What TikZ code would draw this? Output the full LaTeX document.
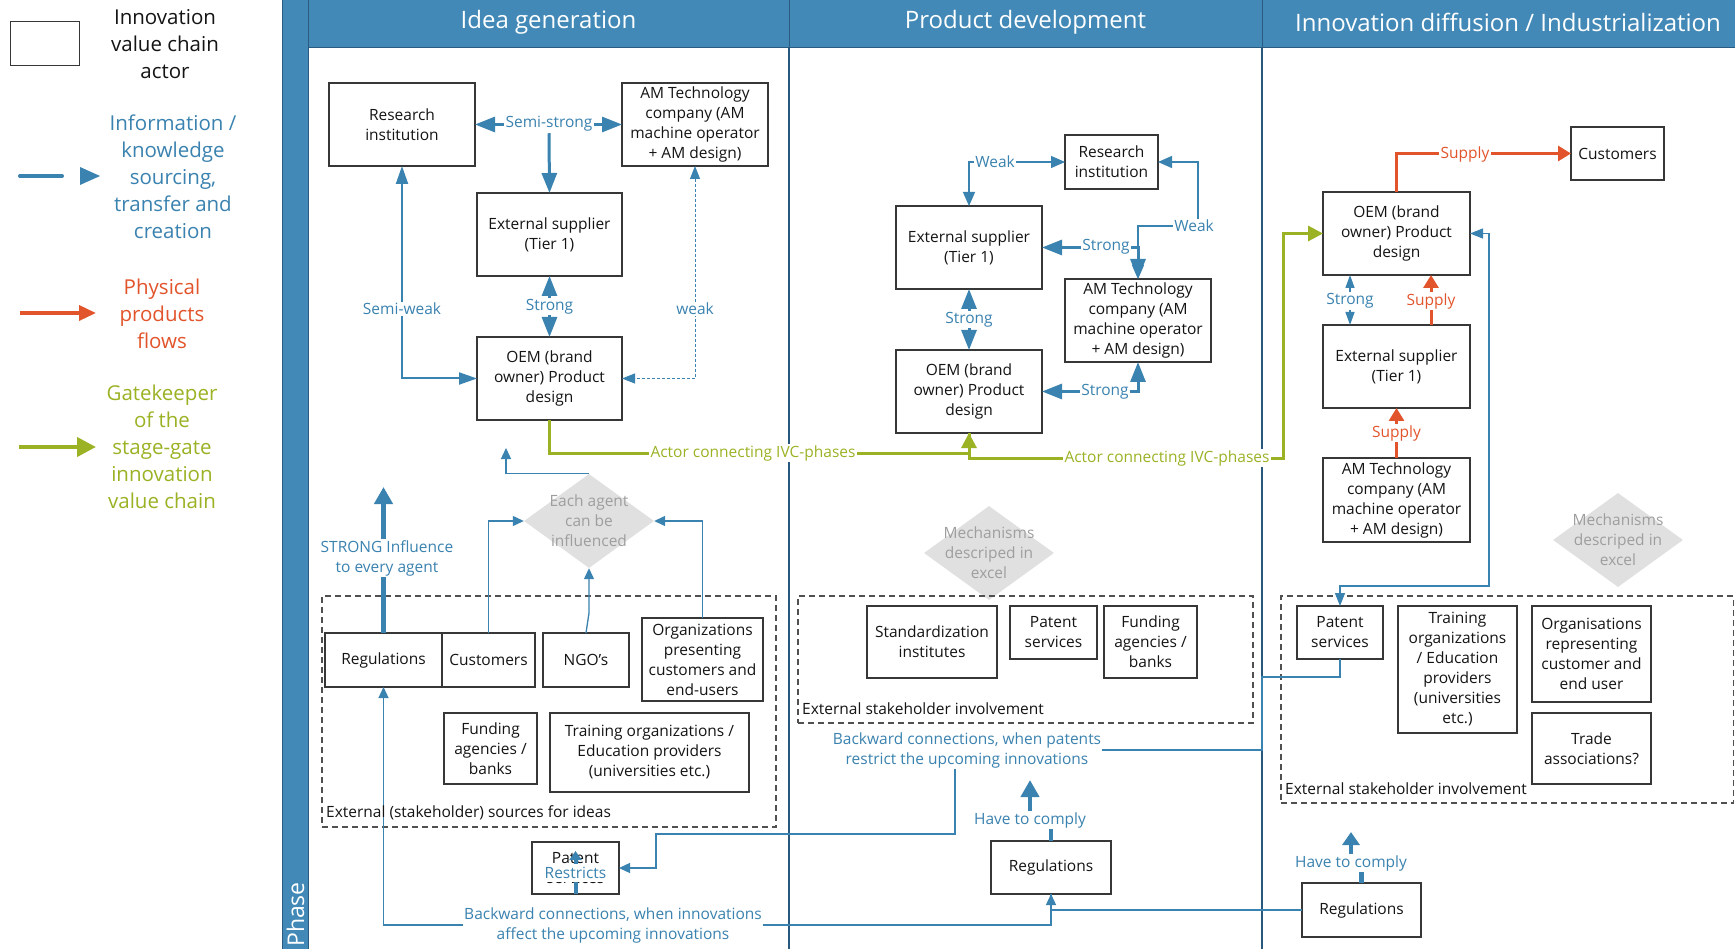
\documentclass[tikz,border=0pt]{standalone}
\usepackage{fontspec}
\setmainfont{Open Sans}
\usetikzlibrary{arrows.meta,shapes.geometric,calc}
\definecolor{hdr}{RGB}{66,137,183}
\definecolor{hdrdark}{RGB}{42,92,130}
\definecolor{bl}{RGB}{58,130,175}
\definecolor{orng}{RGB}{226,84,43}
\definecolor{grn}{RGB}{155,178,36}
\definecolor{dgray}{RGB}{224,224,224}
\definecolor{dtext}{RGB}{158,158,158}
\definecolor{bord}{RGB}{55,55,55}
\definecolor{dashc}{RGB}{80,80,80}
\definecolor{sepc}{RGB}{40,88,125}
\definecolor{txt}{RGB}{20,20,20}
\newcommand{\bxfont}{\fontsize{15.5}{20}\selectfont}
\newcommand{\lgfont}{\fontsize{20.5}{27}\selectfont}
\newcommand{\hdfont}{\fontsize{24}{28}\selectfont}
\newcommand{\actor}[6]{\node[actor, minimum width={(#4)-(#2)}, minimum height={(#5)-(#3)}] (#1) at ({((#2)+(#4))/2},{((#3)+(#5))/2}) {#6};}
\begin{document}
\begin{tikzpicture}[x=1pt,y=-1pt,
 actor/.style={draw=bord, line width=1.2pt, fill=white, align=center, inner sep=1pt, outer sep=0pt, font=\bxfont, text=txt},
 lab/.style={fill=white, inner sep=1.5pt, font=\bxfont, text=bl, align=center},
 olab/.style={lab, text=orng},
 glab/.style={lab, text=grn},
 plainlab/.style={inner sep=1pt, font=\bxfont, text=bl, align=center},
 dashbox/.style={draw=dashc, line width=1.2pt, dash pattern=on 6pt off 4pt, inner sep=0pt, outer sep=0pt, anchor=north west},
 dia/.style={diamond, fill=dgray, minimum width=130, minimum height=94, inner sep=0pt},
 diatxt/.style={font=\bxfont, text=dtext, align=center, inner sep=0pt},
 hcell/.style={fill=hdr, draw=hdrdark, line width=1pt, inner sep=0pt, outer sep=0pt},
 thk/.style={draw=bl, line width=3pt},
 med/.style={draw=bl, line width=2pt},
 thinb/.style={draw=bl, line width=1.3pt},
 vthk/.style={draw=bl, line width=4.5pt},
 orline/.style={draw=orng, line width=3pt},
 grnline/.style={draw=grn, line width=3pt},
 bigA/.style={-{Triangle[length=20pt,width=15pt]}},
 bigAA/.style={{Triangle[length=20pt,width=15pt]}-{Triangle[length=20pt,width=15pt]}},
 medAA/.style={{Triangle[length=18pt,width=12pt]}-{Triangle[length=18pt,width=12pt]}},
 smAA/.style={{Triangle[length=13pt,width=10pt]}-{Triangle[length=13pt,width=10pt]}},
 wAA/.style={{Triangle[length=14pt,width=12pt]}-{Triangle[length=14pt,width=12pt]}},
 smallA/.style={-{Triangle[length=11pt,width=10pt]}},
 tinyAA/.style={{Triangle[length=13pt,width=9pt]}-{Triangle[length=13pt,width=9pt]}},
 vA/.style={-{Triangle[length=17pt,width=18pt]}},
 vAs/.style={-{Triangle[length=13pt,width=17pt]}},
 tinyA/.style={-{Triangle[length=9pt,width=12pt]}},
 orA/.style={-{Triangle[length=13pt,width=15pt]}},
 grnA/.style={-{Triangle[length=15pt,width=15pt]}}
]
\fill[white] (0,0) rectangle (1735,949);
\useasboundingbox (0,0) rectangle (1735,949);

% phase bar and header
\filldraw[hcell] (282,0) rectangle (308,949);
\node[rotate=90, anchor=base west, text=white, font=\fontsize{23}{26}\selectfont, inner sep=0pt] (phase) at (304,947) {Phase};
\node[hcell, minimum width=481, minimum height=48] (h1) at (548.5,24) {};
\node[hcell, minimum width=473, minimum height=48] (h2) at (1025.5,24) {};
\node[hcell, minimum width=473, minimum height=48] (h3) at (1498.5,24) {};
\node[text=white, font=\hdfont] (h1t) at (548.5,22) {Idea generation};
\node[text=white, font=\hdfont] (h2t) at (1025.5,22) {Product development};
\node[text=white, font=\hdfont] (h3t) at (1508,22) {Innovation diffusion / Industrialization};
\draw[sepc, line width=1.3pt] (h1.south east) -- (789,949);
\draw[sepc, line width=1.3pt] (h2.south east) -- (1262,949);

% legend
\node[draw=bord, line width=1.2pt, minimum width=69, minimum height=44, anchor=north west, inner sep=0pt] (lgbox) at (10,21) {};
\node[font=\lgfont, align=center, text=txt] (lgt1) at (165,44) {Innovation\\value chain\\actor};
\coordinate (lb1) at (20,176); \coordinate (lb2) at (62,176);
\draw[bl, line width=4pt, line cap=round] (lb1) -- (lb2);
\fill[bl] (80,167) -- (100,176) -- (80,185) -- cycle;
\node[font=\lgfont, align=center, text=bl] (lgt2) at (173,177) {Information /\\knowledge\\sourcing,\\transfer and\\creation};
\coordinate (lo1) at (20,313); \coordinate (lo2) at (96,313);
\draw[orng, line width=3.5pt, -{Triangle[length=17pt,width=15pt]}] (lo1) -- (lo2);
\node[font=\lgfont, align=center, text=orng] (lgt3) at (162,314) {Physical\\products\\flows};
\coordinate (lg1) at (19,447); \coordinate (lg2) at (96,447);
\draw[grn, line width=4pt, -{Triangle[length=19pt,width=19pt]}] (lg1) -- (lg2);
\node[font=\lgfont, align=center, text=grn] (lgt4) at (162,447) {Gatekeeper\\of the\\stage-gate\\innovation\\value chain};

% diamonds and dashed boxes
\node[dia] (dia1) at (589,521) {};
\node[diatxt] at (dia1) {Each agent\\can be\\influenced};
\node[dia] (mech2) at (989,553) {};
\node[diatxt] at (mech2) {Mechanisms\\descriped in\\excel};
\node[dia] (mech3) at (1618,540) {};
\node[diatxt] at (mech3) {Mechanisms\\descriped in\\excel};

\node[dashbox, minimum width=454, minimum height=231] (ext1) at (322,596) {};
\node[dashbox, minimum width=455, minimum height=127] (ext2) at (798,596) {};
\node[dashbox, minimum width=452.5, minimum height=207] (ext3) at (1281,596) {};

% actors: idea generation
\actor{ri1}{329}{83}{475}{166}{Research\\institution}
\actor{am1}{622}{83}{768}{166}{AM Technology\\company (AM\\machine operator\\+ AM design)}
\actor{es1}{477}{193}{622}{276}{External supplier\\(Tier 1)}
\actor{oem1}{477}{337}{622}{420}{OEM (brand\\owner) Product\\design}
\actor{reg1}{325}{633}{442}{687}{Regulations}
\actor{cust1}{442}{633}{535}{687}{Customers}
\actor{ngo1}{543}{633}{629}{687}{NGO’s}
\actor{org1}{642}{618}{763}{701}{Organizations\\presenting\\customers and\\end-users}
\actor{fund1}{444}{713}{537}{784}{Funding\\agencies /\\banks}
\actor{train1}{550}{713}{749}{792}{Training organizations /\\Education providers\\(universities etc.)}
\actor{pat1}{532}{842}{619}{894}{Patent\\services}

% actors: product development
\actor{ri2}{1065}{135}{1158}{189}{Research\\institution}
\actor{es2}{896}{206}{1042}{289}{External supplier\\(Tier 1)}
\actor{am2}{1065}{279}{1211}{362}{AM Technology\\company (AM\\machine operator\\+ AM design)}
\actor{oem2}{896}{350}{1042}{433}{OEM (brand\\owner) Product\\design}
\actor{std2}{867}{606}{997}{678}{Standardization\\institutes}
\actor{pat2}{1010}{606}{1097}{659}{Patent\\services}
\actor{fund2}{1104}{606}{1197}{678}{Funding\\agencies /\\banks}
\actor{reg2}{991}{841}{1111}{894}{Regulations}

% actors: diffusion
\actor{cust3}{1571}{127}{1664}{180}{Customers}
\actor{oem3}{1323}{192}{1470}{275}{OEM (brand\\owner) Product\\design}
\actor{es3}{1323}{325}{1470}{408}{External supplier\\(Tier 1)}
\actor{am3}{1323}{458}{1470}{542}{AM Technology\\company (AM\\machine operator\\+ AM design)}
\actor{pat3}{1297}{606}{1383}{659}{Patent\\services}
\actor{train3}{1398}{606}{1517}{733}{Training\\organizations\\/ Education\\providers\\(universities\\etc.)}
\actor{org3}{1532}{606}{1651}{702}{Organisations\\representing\\customer and\\end user}
\actor{trade3}{1532}{713}{1651}{784}{Trade\\associations?}
\actor{reg3}{1302}{883}{1421}{937}{Regulations}

% connectors: idea generation
\draw[thk, bigAA] (ri1.east) -- (am1.west);
\node[lab] (ss) at (549,124) {Semi-strong};
\draw[thk, bigA] (ss.south) -- (es1.north);
\draw[thk, bigAA] (es1.south) -- node[lab]{Strong} (oem1.north);
\draw[med, medAA] (ri1.south) |- (oem1.west);
\node[lab] (swl) at (402,309) {Semi-weak};
\draw[bl, line width=1pt, dash pattern=on 3pt off 2pt, smAA] (am1.south) |- (oem1.east);
\node[lab] (wkl) at (695,309) {weak};

% green
\draw[grnline, grnA] (oem1.south) -- ++(0,33) -| (oem2.south);
\node[glab] (g1l) at (753,453) {Actor connecting IVC-phases};
\draw[grnline, grnA] (oem2.south) -- ++(0,25) -- (1283,458) |- (oem3.west);
\node[glab] (g2l) at (1167,458) {Actor connecting IVC-phases};

% diamond arrows
\coordinate (up1) at (506,448);
\draw[thinb, smallA] (dia1.north) -| (up1);
\draw[thinb, smallA] (cust1.north) |- (dia1.west);
\draw[thinb, smallA] (ngo1.north) -- (589,613) -- (dia1.south);
\draw[thinb, smallA] (org1.north) |- (dia1.east);

% strong influence
\node[plainlab] (strong) at (387,558) {STRONG Influence\\to every agent};
\draw[vthk] (reg1.north) -- (reg1.north |- strong.south);
\draw[vthk, vA] (strong.north -| reg1.north) -- ++(0,-52);

% restricts
\draw[line width=4pt, draw=bl, tinyA] (pat1.south) -- ++(0,-43);
\node[lab, inner xsep=0.5pt, inner ysep=3pt] (restr) at (575.5,873) {Restricts};

% backward connections
\node[plainlab] (bwp) at (967,750) {Backward connections, when patents\\restrict the upcoming innovations};
\draw[thinb] (pat3.south) |- (1262,677) |- (bwp.east);
\draw[thinb, smallA] ([xshift=-12pt]bwp.south) |- (656,834) |- (pat1.east);
\node[plainlab] (bwi) at (613,925) {Backward connections, when innovations\\affect the upcoming innovations};
\draw[thinb, smallA] (bwi.west) -| (reg1.south);
\draw[thinb] (reg2.south) |- (bwi.east);
\draw[thinb, smallA] (reg3.west) -| (reg2.south);

% have to comply
\node[plainlab] (htc2) at (1030,820) {Have to comply};
\draw[vthk] (reg2.north) -- (reg2.north |- htc2.south);
\draw[vthk, vA] (htc2.north) -- ++(0,-31);
\node[plainlab] (htc3) at (1351,863) {Have to comply};
\draw[vthk] (reg3.north) -- (reg3.north |- htc3.south);
\draw[vthk, vAs] (htc3.north) -- ++(0,-22);

% product development connectors
\draw[thinb, wAA] (es2.north) |- (ri2.west);
\node[lab] (wk2) at (995,162) {Weak};
\draw[thinb, wAA] (ri2.east) -| (1198,226) -| (am2.north);
\node[lab] (wk3) at (1194,226) {Weak};
\draw[thk, bigAA] (es2.east) -| (am2.north);
\node[lab] (st2) at (1106,247) {Strong};
\draw[thk, bigAA] (es2.south) -- node[lab]{Strong} (oem2.north);
\draw[thk, bigAA] (oem2.east) -| (am2.south);
\node[lab] (st3) at (1105,392) {Strong};

% diffusion connectors
\draw[orline, orA] (oem3.north) |- (cust3.west);
\node[olab] (sp1) at (1465,154) {Supply};
\draw[thinb, tinyAA] ([xshift=-46.5pt]oem3.south) -- ([xshift=-46.5pt]es3.north);
\node[lab] (st4) at (1350,301) {Strong};
\draw[orline, orA] ([xshift=34.5pt]es3.north) -- ([xshift=34.5pt]oem3.south);
\node[olab] (sp2) at (1431,301) {Supply};
\draw[orline, orA] (am3.north) -- node[olab]{Supply} (es3.south);
\draw[thinb, smAA] (oem3.east) -| (1489,586) -| (pat3.north);

% dashed box labels (on top of lines)
\node[anchor=west, font=\bxfont, inner sep=1pt, text=txt] (ext1l) at (325,813) {External (stakeholder) sources for ideas};
\node[anchor=west, font=\bxfont, inner sep=1pt, text=txt] (ext2l) at (801,709) {External stakeholder involvement};
\node[anchor=west, font=\bxfont, inner sep=1pt, text=txt] (ext3l) at (1284,789) {External stakeholder involvement};
\end{tikzpicture}
\end{document}
